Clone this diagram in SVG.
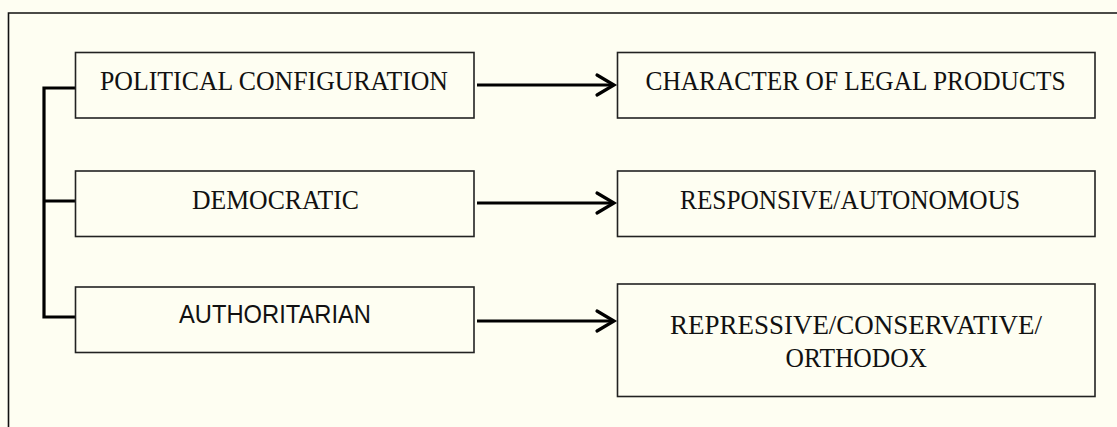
<svg xmlns="http://www.w3.org/2000/svg" width="1117" height="427" viewBox="0 0 1117 427">
  <defs>
    <style>
      .box { fill: none; stroke: #222; stroke-width: 1.6; }
      .serif { font-family: "Liberation Serif", "Times New Roman", serif; font-size: 28px; fill: #111; }
      .sans { font-family: "Liberation Sans", Arial, sans-serif; font-size: 26px; fill: #111; }
      .conn { fill: none; stroke: #000; stroke-width: 3.2; }
      .head { fill: none; stroke: #000; stroke-width: 3.2; stroke-linecap: round; stroke-linejoin: miter; }
    </style>
  </defs>
  <rect x="0" y="0" width="1117" height="427" fill="#FEFEF2"/>
  <path d="M8.5,427 V13 H1117" fill="none" stroke="#111" stroke-width="1.6"/>

  <g id="connectors">
    <path class="conn" d="M75,88 H44 V317 H75 M44,201 H75"/>
    <path class="conn" d="M477,85 H613"/>
    <path class="head" d="M597,75 L614,85 L597,95"/>
    <path class="conn" d="M477,203 H613"/>
    <path class="head" d="M597,193 L614,203 L597,213"/>
    <path class="conn" d="M477,321 H613"/>
    <path class="head" d="M597,311 L614,321 L597,331"/>
  </g>

  <g id="node-political">
    <rect class="box" x="75.5" y="52.5" width="398.5" height="65.5"/>
    <text class="serif" x="100" y="90" textLength="348" lengthAdjust="spacingAndGlyphs">POLITICAL CONFIGURATION</text>
  </g>
  <g id="node-democratic">
    <rect class="box" x="75.5" y="171" width="398.5" height="65.5"/>
    <text class="serif" x="192" y="209" textLength="167" lengthAdjust="spacingAndGlyphs">DEMOCRATIC</text>
  </g>
  <g id="node-authoritarian">
    <rect class="box" x="75.5" y="287" width="398.5" height="65.5"/>
    <text class="sans" x="179" y="323" textLength="192" lengthAdjust="spacingAndGlyphs">AUTHORITARIAN</text>
  </g>
  <g id="node-character">
    <rect class="box" x="617.5" y="52.5" width="477.5" height="65.5"/>
    <text class="serif" x="645.5" y="90" textLength="420" lengthAdjust="spacingAndGlyphs">CHARACTER OF LEGAL PRODUCTS</text>
  </g>
  <g id="node-responsive">
    <rect class="box" x="617.5" y="171" width="477.5" height="65.5"/>
    <text class="serif" x="680" y="209" textLength="340" lengthAdjust="spacingAndGlyphs">RESPONSIVE/AUTONOMOUS</text>
  </g>
  <g id="node-repressive">
    <rect class="box" x="617.5" y="284" width="477.5" height="112.5"/>
    <text class="serif" x="670" y="334" textLength="372" lengthAdjust="spacingAndGlyphs">REPRESSIVE/CONSERVATIVE/</text>
    <text class="serif" x="785.5" y="367" textLength="141.5" lengthAdjust="spacingAndGlyphs">ORTHODOX</text>
  </g>
</svg>
